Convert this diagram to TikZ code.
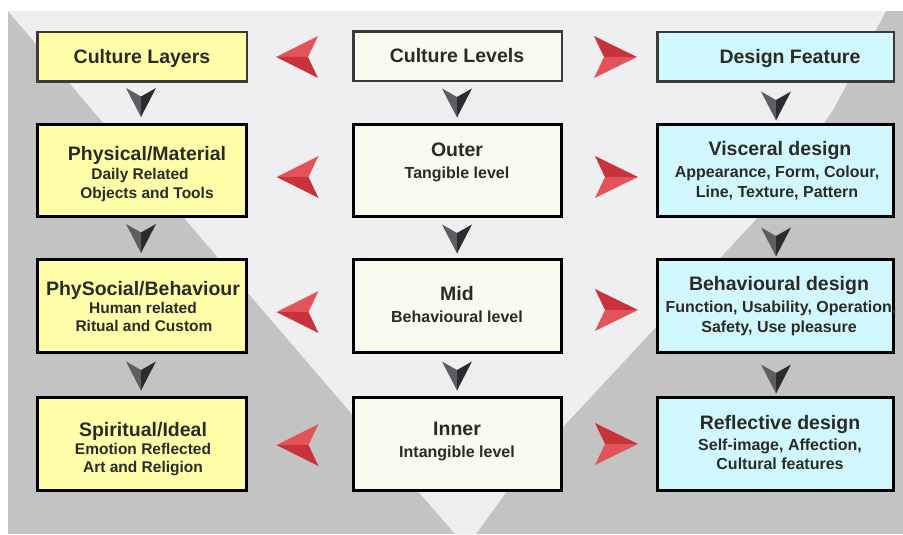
\documentclass[tikz,border=0pt]{standalone}
\usepackage{fontspec}
\setmainfont{Liberation Sans}
\usetikzlibrary{calc}
\definecolor{bggray}{HTML}{C3C3C3}
\definecolor{bglight}{HTML}{EFEFF1}
\definecolor{yfill}{HTML}{FFFFAA}
\definecolor{cfill}{HTML}{FAFAEE}
\definecolor{bfill}{HTML}{D2F8FF}
\definecolor{redlight}{HTML}{E2545A}
\definecolor{reddark}{HTML}{C8323A}
\definecolor{graylight}{HTML}{5E5E62}
\definecolor{graydark}{HTML}{2C2C2E}
\definecolor{txt}{HTML}{2B2B25}
\definecolor{headline}{HTML}{3A3A3A}
\newcommand\dartleft[2]{%
  \fill[redlight] ({#1-21},#2) -- ({#1+21},{#2-21}) -- ({#1+11},#2) -- cycle;
  \fill[reddark] ({#1-21},#2) -- ({#1+11},#2) -- ({#1+21},{#2+21}) -- cycle;}
\newcommand\dartright[2]{%
  \fill[reddark] ({#1+21.5},#2) -- ({#1-21.5},{#2-21}) -- ({#1-11.5},#2) -- cycle;
  \fill[redlight] ({#1+21.5},#2) -- ({#1-11.5},#2) -- ({#1-21.5},{#2+21}) -- cycle;}
\newcommand\dartdown[2]{%
  \fill[graylight] (#1,{#2+14.5}) -- ({#1-15},{#2-14.5}) -- (#1,{#2-6}) -- cycle;
  \fill[graydark] (#1,{#2+14.5}) -- (#1,{#2-6}) -- ({#1+15},{#2-14.5}) -- cycle;}
\tikzset{
  box/.style={draw=black, line width=3pt, inner sep=0pt, outer sep=0pt},
  headbox/.style={draw=headline, line width=2.5pt, inner sep=0pt, outer sep=0pt},
  ttl/.style={inner sep=0pt, text=txt, font=\fontsize{19.5}{22}\selectfont\bfseries, text height=14pt, text depth=0pt},
  subl/.style={inner sep=0pt, text=txt, font=\fontsize{15.5}{18}\selectfont\bfseries, text height=11.1pt, text depth=0pt},
  subr/.style={inner sep=0pt, text=txt, font=\fontsize{16}{18}\selectfont\bfseries, text height=11.5pt, text depth=0pt},
}
\begin{document}
\begin{tikzpicture}[x=1pt,y=-1pt]
\useasboundingbox (0,0) rectangle (903,535);
\fill[white] (0,0) rectangle (903,535);
\fill[bggray] (8,11) rectangle (903,534);
\fill[bglight] (8,11) -- (886,11) -- (833,110) -- (760,215) -- (563,427) -- (507,491) -- (476,534) -- (455,534) -- (418,491) -- (248,293) -- cycle;

% left column
\node[headbox, fill=yfill, minimum width=209.5pt, minimum height=49.5pt] (lay1) at (142,57) {};
\node[box, fill=yfill, minimum width=209pt, minimum height=92pt] (lay2) at (142,170.5) {};
\node[box, fill=yfill, minimum width=209pt, minimum height=92.5pt] (lay3) at (142,305.75) {};
\node[box, fill=yfill, minimum width=209pt, minimum height=93pt] (lay4) at (142,444) {};
% center column
\node[headbox, fill=cfill, minimum width=208.5pt, minimum height=49.5pt] (lev1) at (457.5,56.5) {};
\node[box, fill=cfill, minimum width=208pt, minimum height=92pt] (lev2) at (457.5,170.5) {};
\node[box, fill=cfill, minimum width=208pt, minimum height=92.5pt] (lev3) at (457.5,305.75) {};
\node[box, fill=cfill, minimum width=208pt, minimum height=93pt] (lev4) at (457.5,443.5) {};
% right column
\node[headbox, fill=bfill, minimum width=236.5pt, minimum height=49.5pt] (des1) at (775.5,57) {};
\node[box, fill=bfill, minimum width=236pt, minimum height=92pt] (des2) at (775.5,170.5) {};
\node[box, fill=bfill, minimum width=236pt, minimum height=92.5pt] (des3) at (775.5,305.75) {};
\node[box, fill=bfill, minimum width=236pt, minimum height=93pt] (des4) at (775.5,444) {};

% texts left
\node[ttl] (lay1t) at (142,57) {Culture Layers};
\node[ttl] (lay2t) at (147,153) {Physical/Material};
\node[subl] (lay2a) at (140,174) {Daily Related};
\node[subl] (lay2b) at (147,193) {Objects and Tools};
\node[ttl] (lay3t) at (143,288) {PhySocial/Behaviour};
\node[subl] (lay3a) at (143,308) {Human related};
\node[subl] (lay3b) at (144,326) {Ritual and Custom};
\node[ttl] (lay4t) at (143,429) {Spiritual/Ideal};
\node[subl] (lay4a) at (143,449) {Emotion Reflected};
\node[subl] (lay4b) at (143,467) {Art and Religion};
% texts center
\node[ttl] (lev1t) at (457,56) {Culture Levels};
\node[ttl] (lev2t) at (457,150) {Outer};
\node[subr] (lev2a) at (457,173) {Tangible level};
\node[ttl] (lev3t) at (457,293) {Mid};
\node[subr] (lev3a) at (457,317) {Behavioural level};
\node[ttl] (lev4t) at (457,428) {Inner};
\node[subr] (lev4a) at (457,452) {Intangible level};
% texts right
\node[ttl] (des1t) at (790,57) {Design Feature};
\node[ttl] (des2t) at (780,148) {Visceral design};
\node[subr] (des2a) at (777,172) {Appearance, Form, Colour,};
\node[subr] (des2b) at (777,192) {Line, Texture, Pattern};
\node[ttl] (des3t) at (779,283) {Behavioural design};
\node[subr] (des3a) at (781,307) {Function, Usability, Operation,};
\node[subr] (des3b) at (779,327) {Safety, Use pleasure};
\node[ttl] (des4t) at (780,422) {Reflective design};
\node[subr] (des4a) at (780,445) {Self-image, Affection,};
\node[subr] (des4b) at (780,464) {Cultural features};

% red darts
\dartleft{297}{57}
\dartleft{297.5}{177}
\dartleft{297.5}{312}
\dartleft{297.5}{445}
\dartright{615.5}{57}
\dartright{616.5}{177}
\dartright{616.5}{310}
\dartright{616.5}{444}
% gray darts
\dartdown{141}{102.5}
\dartdown{141}{238.5}
\dartdown{141}{376}
\dartdown{457}{103}
\dartdown{457}{239}
\dartdown{457}{376}
\dartdown{776}{106}
\dartdown{776}{242}
\dartdown{776}{379}
\end{tikzpicture}
\end{document}
